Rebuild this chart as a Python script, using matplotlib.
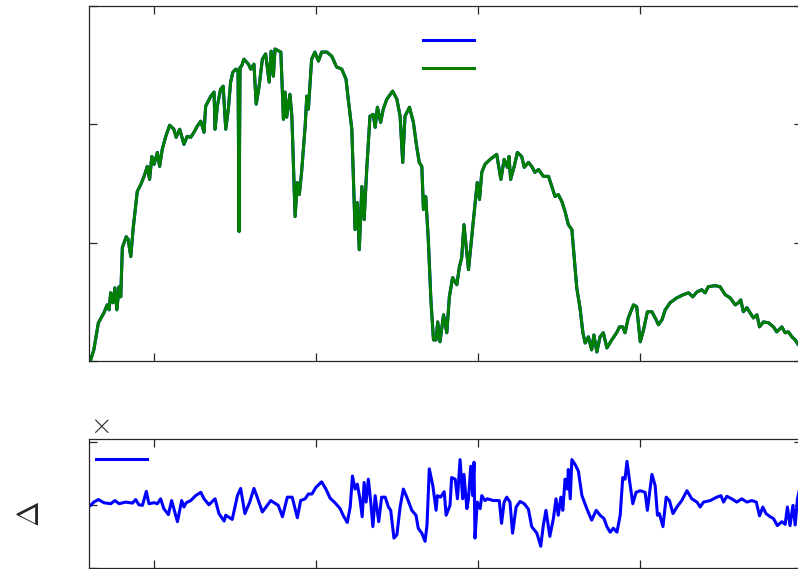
import matplotlib.pyplot as plt
import numpy as np

plt.rcParams['mathtext.fontset'] = 'cm'

# Спектр (нм, Вт/м^2/нм)
wavelength = [305, 315, 329, 346, 356, 362, 367, 374, 380, 386,
              393, 398, 403, 415, 421, 429, 436, 449, 460, 470,
              480, 487, 494, 501, 511, 518, 526, 537, 549, 562,
              569, 580, 593, 603, 614, 624, 634, 645, 655, 660,
              676, 686, 689, 696, 706, 714, 722, 730, 737, 744,
              753, 760, 763, 766, 771, 778, 792, 799, 809, 816,
              825, 835, 845, 856, 862, 869, 874, 892, 900, 905,
              910, 920, 926, 936, 943, 949, 956, 967, 972, 977,
              987, 997, 1008, 1018, 1034, 1049, 1064, 1080, 1093, 1100,
              1111, 1121, 1128, 1134, 1142, 1149, 1157, 1167, 1177, 1183,
              1190, 1200, 1208, 1219, 1237, 1250, 1260, 1268, 1275, 1289,
              1301, 1311, 1319, 1327, 1332, 1339, 1347, 1355, 1363, 1371,
              1376, 1383, 1394, 1404, 1412, 1422, 1435, 1443, 1450, 1457,
              1464, 1471, 1481, 1491, 1498, 1505, 1512, 1522, 1538, 1558,
              1571, 1581, 1591, 1596, 1601, 1612, 1622, 1635, 1643, 1656,
              1666, 1676, 1687, 1702, 1718, 1728, 1738, 1748, 1759, 1769,
              1779, 1790, 1797, 1805, 1815, 1824, 1831, 1841, 1851, 1858,
              1867, 1877, 1887, 1898, 1913, 1928, 1937, 1947, 1954, 1964,
              1980, 1990, 2001, 2011, 2023, 2037, 2050, 2057, 2068, 2078,
              2093, 2114, 2134, 2150, 2163, 2176, 2191, 2201, 2211, 2232,
              2247, 2263, 2278, 2294, 2304, 2311, 2319, 2330, 2340, 2350,
              2361, 2369, 2381, 2397, 2412, 2422, 2438, 2448, 2458, 2469,
              2479, 2489, 2500]
irradiance = [0.004, 0.047, 0.161, 0.203, 0.237, 0.216, 0.288, 0.246, 0.309, 0.216,
              0.314, 0.271, 0.479, 0.525, 0.513, 0.441, 0.555, 0.716, 0.746, 0.780,
              0.822, 0.767, 0.864, 0.831, 0.881, 0.822, 0.894, 0.949, 0.996, 0.979,
              0.945, 0.979, 0.915, 0.949, 0.945, 0.966, 0.992, 1.013, 0.966, 1.076,
              1.119, 1.136, 0.979, 1.076, 1.148, 1.161, 0.979, 1.064, 1.178, 1.220,
              1.233, 1.225, 0.547, 1.240, 1.246, 1.275, 1.254, 1.233, 1.254, 1.085,
              1.161, 1.275, 1.297, 1.178, 1.309, 1.203, 1.318, 1.305, 1.021, 1.136,
              1.030, 1.127, 1.034, 0.610, 0.754, 0.703, 0.797, 0.992, 1.119, 1.064,
              1.275, 1.305, 1.267, 1.305, 1.305, 1.288, 1.242, 1.233, 1.191, 1.106,
              0.979, 0.555, 0.669, 0.470, 0.737, 0.597, 0.809, 1.034, 1.042, 0.987,
              1.072, 1.008, 1.064, 1.106, 1.140, 1.106, 1.034, 0.839, 1.034, 1.072,
              1.008, 0.907, 0.839, 0.822, 0.640, 0.695, 0.513, 0.258, 0.089, 0.089,
              0.165, 0.081, 0.195, 0.119, 0.271, 0.352, 0.322, 0.398, 0.436, 0.576,
              0.483, 0.386, 0.525, 0.661, 0.754, 0.682, 0.797, 0.831, 0.852, 0.873,
              0.767, 0.852, 0.818, 0.864, 0.767, 0.822, 0.881, 0.864, 0.818, 0.839,
              0.822, 0.797, 0.809, 0.780, 0.780, 0.737, 0.695, 0.703, 0.674, 0.631,
              0.576, 0.555, 0.441, 0.309, 0.225, 0.119, 0.076, 0.102, 0.047, 0.110,
              0.038, 0.102, 0.119, 0.055, 0.089, 0.119, 0.144, 0.144, 0.119, 0.182,
              0.237, 0.229, 0.081, 0.131, 0.208, 0.208, 0.174, 0.153, 0.174, 0.216,
              0.246, 0.267, 0.280, 0.288, 0.271, 0.292, 0.301, 0.288, 0.314, 0.318,
              0.314, 0.280, 0.267, 0.237, 0.246, 0.258, 0.208, 0.225, 0.203, 0.182,
              0.195, 0.144, 0.165, 0.161, 0.144, 0.123, 0.144, 0.119, 0.123, 0.102,
              0.089, 0.068, 0.060]

# Разность (x1e-3)
delta_wavelength = [305, 315, 329, 346, 367, 380, 393, 413, 434, 444,
                    454, 465, 477, 485, 501, 511, 521, 531, 539, 545,
                    555, 562, 573, 586, 593, 600, 614, 629, 645, 655,
                    670, 689, 701, 717, 722, 742, 758, 768, 781, 796,
                    809, 819, 835, 861, 884, 897, 912, 927, 943, 953,
                    967, 977, 988, 1000, 1018, 1031, 1044, 1059, 1075, 1085,
                    1097, 1106, 1113, 1121, 1128, 1136, 1143, 1149, 1155, 1162,
                    1169, 1176, 1183, 1194, 1203, 1214, 1224, 1231, 1241, 1250,
                    1260, 1270, 1282, 1296, 1309, 1316, 1327, 1337, 1343, 1350,
                    1361, 1371, 1375, 1385, 1396, 1402, 1414, 1419, 1430, 1437,
                    1445, 1453, 1457, 1466, 1471, 1478, 1484, 1488, 1491, 1498,
                    1507, 1512, 1522, 1529, 1548, 1566, 1573, 1581, 1589, 1599,
                    1607, 1618, 1630, 1643, 1656, 1666, 1682, 1694, 1702, 1710,
                    1722, 1733, 1741, 1748, 1756, 1762, 1769, 1776, 1779, 1785,
                    1790, 1800, 1810, 1821, 1836, 1851, 1865, 1877, 1889, 1898,
                    1908, 1918, 1929, 1939, 1947, 1954, 1960, 1968, 1978, 1988,
                    2001, 2016, 2023, 2037, 2047, 2054, 2060, 2071, 2081, 2091,
                    2102, 2114, 2129, 2145, 2160, 2176, 2186, 2196, 2217, 2237,
                    2250, 2258, 2268, 2283, 2299, 2314, 2330, 2345, 2359, 2369,
                    2379, 2389, 2402, 2412, 2424, 2438, 2448, 2455, 2463, 2472,
                    2479, 2486, 2493, 2500]
delta = [-0.05, 0.21, 0.41, 0.16, 0.08, 0.33, 0.08, 0.21, 0.13, 0.41,
         0.00, -0.05, 1.06, 0.08, 0.16, 0.08, 0.47, -0.31, -0.57, -0.78,
         0.33, -0.31, -1.34, 0.33, -0.18, 0.16, 0.33, 0.72, 0.98, 0.47,
         0.00, 0.47, -0.70, -1.29, -0.83, -1.16, 0.72, 1.29, -0.70, 0.21,
         1.29, 0.60, -0.57, 0.33, -0.05, -0.95, 0.60, 0.60, -1.03, 0.33,
         0.47, 0.85, 0.85, 1.37, 1.81, 1.24, 0.52, 0.16, -0.31, -0.88,
         -1.40, -0.18, 2.27, 1.24, 1.63, 0.47, -0.95, 1.76, 0.21, 2.02,
         0.33, -1.73, 0.72, -1.34, 0.60, 0.60, -0.18, -0.44, -2.64, -2.38,
         -0.18, 1.24, 0.52, -0.44, -0.83, -1.86, -2.25, -2.89, -1.60, 2.84,
         1.50, -0.44, 0.72, 0.60, 1.03, -0.83, -0.05, 2.15, 2.02, 0.47,
         3.57, 0.47, 2.40, -0.31, 0.47, 3.05, 0.72, 3.36, -2.64, 0.21,
         -0.31, 0.72, 0.33, 0.47, 0.33, 0.33, -1.47, 0.21, 0.60, 0.21,
         -2.25, -0.18, 0.26, 0.08, -0.36, -1.73, -2.25, -3.28, -1.60, -0.44,
         -2.50, -1.09, 0.47, -0.83, 0.60, -0.44, 2.02, 1.24, 2.79, 0.47,
         3.57, 3.18, 2.66, 0.72, -0.31, -1.22, -0.44, -0.83, -1.09, -1.73,
         -2.17, -1.86, -2.17, -0.83, 2.15, 2.02, 3.43, 1.88, 0.08, 0.98,
         1.11, 0.98, -0.44, 2.40, 1.50, -0.83, -0.70, -1.73, 0.60, 0.33,
         -0.70, -0.18, 0.33, 1.11, 0.47, 0.21, -0.18, 0.21, 0.33, 0.60,
         0.72, 0.21, 0.67, 0.47, 0.21, 0.47, 0.21, 0.33, 0.21, -0.88,
         -0.18, -0.70, -0.95, -1.09, -1.65, -1.34, -1.55, -0.18, -1.65, -0.05,
         -1.60, 0.47, 1.30, 0.50]

wl_ticks = [500, 1000, 1500, 2000, 2500]
axis_color = '#262626'
blue = '#0000ff'
green = '#007f00'


def style_axes(ax):
    # оси в стиле MATLAB: тики внутрь со всех сторон, без подписей
    for side in ax.spines.values():
        side.set_color(axis_color)
        side.set_linewidth(0.9)
    ax.tick_params(direction='in', length=5.5, width=0.9, color=axis_color,
                   top=True, right=True, labelleft=False, labelbottom=False)
    ax.set_xlim(300, 2500)
    ax.set_xticks(wl_ticks)


fig = plt.figure(figsize=(7.98, 5.69), dpi=100)
ax1 = fig.add_axes([0.1115, 0.3656, 0.8935, 0.624])
ax2 = fig.add_axes([0.1115, 0.0018, 0.8935, 0.2267])

# Верхний график: два спектра (совпадают)
l1, = ax1.plot(wavelength, irradiance, color=blue, lw=2.2)
l2, = ax1.plot(wavelength, irradiance, color=green, lw=2.2)
style_axes(ax1)
ax1.set_ylim(0, 1.5)
ax1.set_yticks([0, 0.5, 1.0, 1.5])
ax1.legend([l1, l2], [' ', ' '], loc='upper left', bbox_to_anchor=(0.468, 0.921),
           frameon=False, handlelength=3.67, handletextpad=0.2,
           labelspacing=1.0, borderpad=0, borderaxespad=0, fontsize=10)

# Нижний график: разность
l3, = ax2.plot(delta_wavelength, delta, color=blue, lw=2.2)
style_axes(ax2)
ax2.set_ylim(-4.8, 5.2)
ax2.set_yticks([-5, 0, 5])
ax2.legend([l3], [' '], loc='upper left', bbox_to_anchor=(0.0098, 0.895),
           frameon=False, handlelength=3.67, handletextpad=0.2,
           borderpad=0, borderaxespad=0, fontsize=10)
ax2.text(0.0155, 1.11, r'$\times$', transform=ax2.transAxes,
         ha='center', va='center', fontsize=20, color=axis_color)
ax2.set_ylabel(r'$\Delta$', fontsize=22, color=axis_color, va='center')
ax2.yaxis.set_label_coords(-0.082, 0.42)

fig.savefig('out.png', dpi=100)
